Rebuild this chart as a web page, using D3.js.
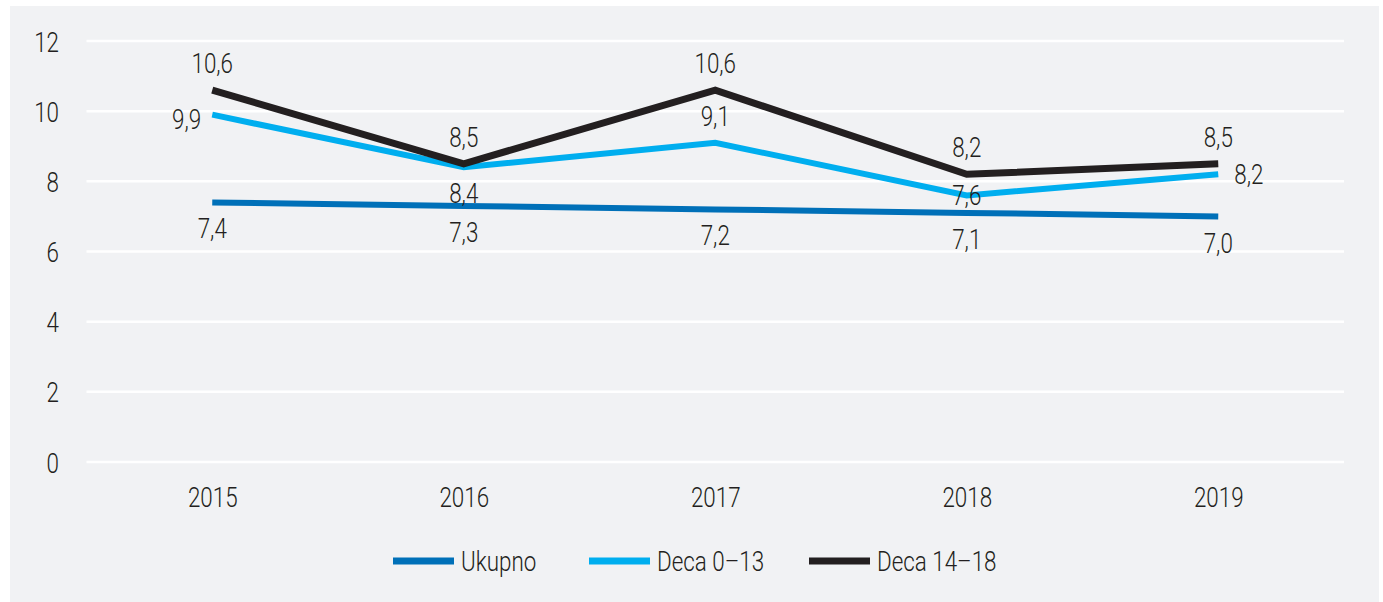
<!DOCTYPE html>
<html lang="sr">
<head>
    <meta charset="utf-8">
    <title>Ukupno / Deca 0-13 / Deca 14-18</title>
    <script src="https://d3js.org/d3.v7.min.js"></script>
    <style type="text/css">
        body { margin: 0; background: #ffffff; }
        svg text {
            font-family: Roboto, "Liberation Sans", sans-serif;
            font-weight: 300;
            fill: #231f20;
        }
        .grid line { stroke: #ffffff; stroke-width: 2.5px; }
        .line { fill: none; stroke-linejoin: miter; }
    </style>
</head>
<body>
<script type="text/javascript">

// Data
const years = ["2015", "2016", "2017", "2018", "2019"];
const ukupno = [7.4, 7.3, 7.2, 7.1, 7.0];
const deca013 = [9.9, 8.4, 9.1, 7.6, 8.2];
const deca1418 = [10.6, 8.5, 10.6, 8.2, 8.5];
const yTicks = [0, 2, 4, 6, 8, 10, 12];
const seriesNames = ["Ukupno", "Deca 0–13", "Deca 14–18"];
// where each data label sits relative to its point
const ukupnoLabelPos = ["below", "below", "below", "below", "below"];
const deca013LabelPos = ["left", "below", "above", "center", "right"];
const deca1418LabelPos = ["above", "above", "above", "above", "above"];

const w = 1383;
const h = 602;
const colors = ["#0070b8", "#00aeef", "#231f20"];
const widths = [6, 6, 7];
const squeeze = "scale(0.8,1)"; // condensed look of the original font

const svg = d3.select("body")
    .append("svg")
    .attr("width", w)
    .attr("height", h);

// gray panel
svg.append("rect")
    .attr("x", 10)
    .attr("y", 6)
    .attr("width", 1369)
    .attr("height", 596)
    .attr("fill", "#f1f2f4");

// Scales
const xScale = d3.scalePoint()
    .domain(years)
    .range([86.5, 1344])
    .padding(0.5);

const yScale = d3.scaleLinear()
    .domain([0, 12])
    .range([462, 41]);

// Gridlines
svg.append("g")
    .attr("class", "grid")
    .selectAll("line")
    .data(yTicks)
    .join("line")
    .attr("x1", 86.5)
    .attr("x2", 1344)
    .attr("y1", d => yScale(d))
    .attr("y2", d => yScale(d));

// y axis labels
const leftAxis = d3.axisLeft(yScale)
    .tickValues(yTicks)
    .tickSize(0)
    .tickPadding(0);

const gy = svg.append("g")
    .attr("transform", "translate(59,0)")
    .call(leftAxis);
gy.select(".domain").remove();
gy.selectAll("text")
    .attr("font-size", "28px")
    .attr("dy", "0.36em")
    .attr("transform", squeeze);

// x axis labels
const bottomAxis = d3.axisBottom(xScale)
    .tickSize(0)
    .tickPadding(0);

const gx = svg.append("g")
    .attr("transform", "translate(0,497)")
    .call(bottomAxis);
gx.select(".domain").remove();
gx.selectAll("text")
    .attr("y", 0)
    .attr("font-size", "28px")
    .attr("dy", "0.36em")
    .attr("transform", squeeze);

// Lines
const line = d3.line()
    .x((d, i) => xScale(years[i]))
    .y(d => yScale(d));

const allSeries = [ukupno, deca013, deca1418];
const allPos = [ukupnoLabelPos, deca013LabelPos, deca1418LabelPos];

allSeries.forEach((vals, s) => {
    svg.append("path")
        .attr("class", "line")
        .attr("d", line(vals))
        .attr("stroke", colors[s])
        .attr("stroke-width", widths[s]);
});

// Data labels
const fmt = v => d3.format(".1f")(v).replace(".", ",");

allSeries.forEach((vals, s) => {
    vals.forEach((v, i) => {
        const px = xScale(years[i]);
        const py = yScale(v);
        const pos = allPos[s][i];
        let x = px, y = py, anchor = "middle";
        if (pos === "above") y = py - 27;
        else if (pos === "below") y = py + 26;
        else if (pos === "left") { x = px - 11; anchor = "end"; y = py + 4; }
        else if (pos === "right") { x = px + 16; anchor = "start"; }
        svg.append("g")
            .attr("transform", "translate(" + x + "," + y + ")")
            .append("text")
            .attr("dy", "0.36em")
            .attr("text-anchor", anchor)
            .attr("font-size", "28px")
            .attr("transform", squeeze)
            .text(fmt(v));
    });
});

// Legend
const legendX = [393, 589, 809];
const legend = svg.append("g")
    .attr("transform", "translate(0,561)");

seriesNames.forEach((name, s) => {
    legend.append("line")
        .attr("x1", legendX[s])
        .attr("x2", legendX[s] + 61)
        .attr("y1", 0)
        .attr("y2", 0)
        .attr("stroke", colors[s])
        .attr("stroke-width", 7);
    legend.append("g")
        .attr("transform", "translate(" + (legendX[s] + 68) + ",0)")
        .append("text")
        .attr("dy", "0.36em")
        .attr("font-size", "28px")
        .attr("transform", squeeze)
        .text(name);
});

</script>
</body>
</html>
